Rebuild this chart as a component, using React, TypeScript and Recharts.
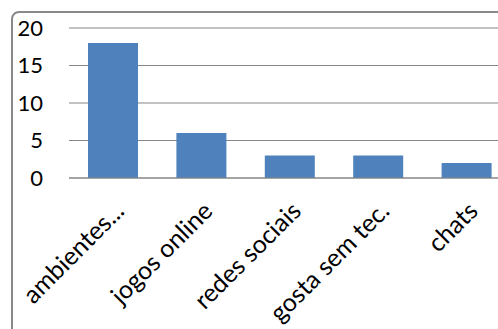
import React from "react";
import { BarChart, Bar, XAxis, YAxis, CartesianGrid } from "recharts";

const categories = [
  "ambientes...",
  "jogos online",
  "redes sociais",
  "gosta sem tec.",
  "chats",
];
const values = [18, 6, 3, 3, 2];
const yTicks = [0, 5, 10, 15, 20];

const data = categories.map((name, i) => ({ name, value: values[i] }));

const font = "Lato, Carlito, Calibri, sans-serif";

export default function App() {
  return (
    <div
      style={{
        position: "fixed",
        left: 0,
        top: 0,
        width: 498,
        height: 329,
        overflow: "hidden",
        background: "#fff",
      }}
    >
      <div
        style={{
          position: "absolute",
          left: 11,
          top: 11,
          width: 600,
          height: 400,
          border: "2px solid #898989",
          borderRadius: 8,
        }}
      />
      <div style={{ position: "absolute", left: 0, top: 0 }}>
        <BarChart
          width={530}
          height={360}
          data={data}
          margin={{ top: 28, right: 19, left: 0, bottom: 32 }}
          barSize={50}
        >
          <CartesianGrid vertical={false} stroke="#868686" strokeWidth={1.2} />
          <XAxis
            dataKey="name"
            height={150}
            interval={0}
            axisLine={{ stroke: "#868686", strokeWidth: 1.2 }}
            tickLine={false}
            tickSize={0}
            tickMargin={22}
            angle={-45}
            textAnchor="end"
            tick={{ fontSize: 25, fill: "#000", fontFamily: font }}
          />
          <YAxis
            width={69}
            domain={[0, 20]}
            ticks={yTicks}
            axisLine={false}
            tickLine={false}
            tickSize={0}
            tickMargin={26}
            tick={{ fontSize: 22, fill: "#000", fontFamily: font }}
          />
          <Bar dataKey="value" fill="#4F81BD" isAnimationActive={false} />
        </BarChart>
      </div>
    </div>
  );
}
